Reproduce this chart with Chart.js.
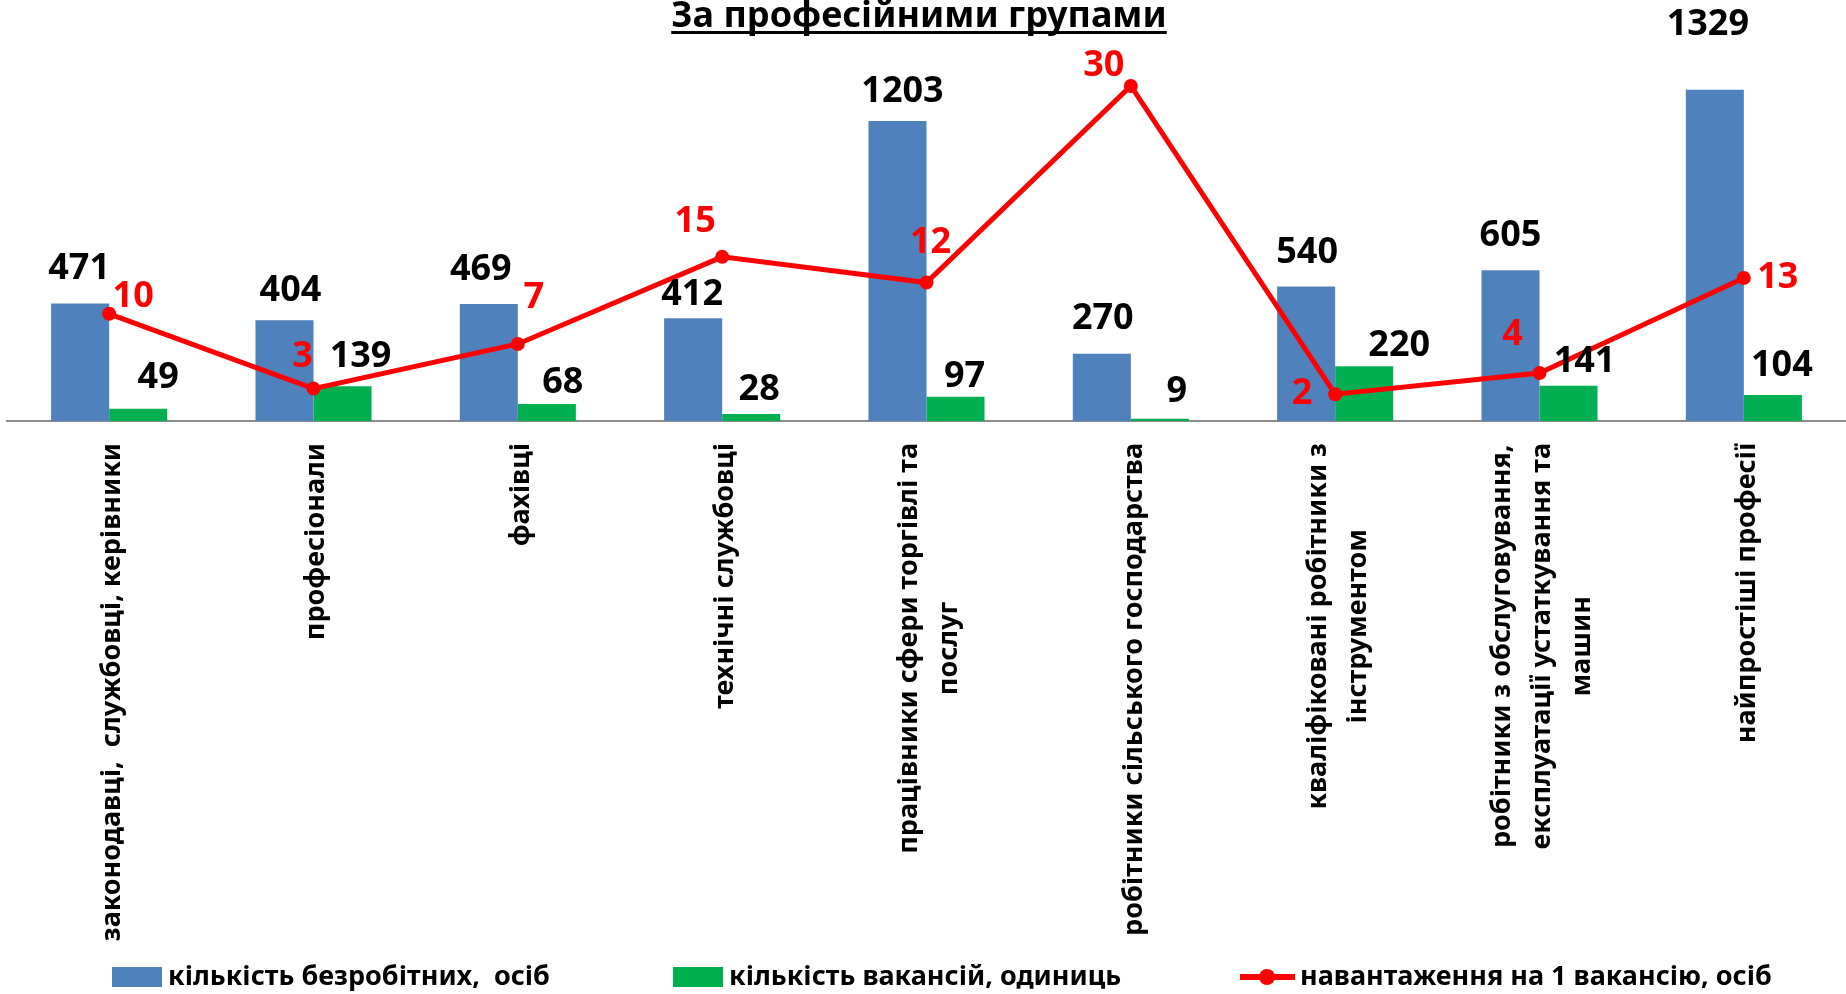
<!DOCTYPE html>
<html lang="uk">
<head>
<meta charset="utf-8">
<title>За професійними групами</title>
<script src="https://cdn.jsdelivr.net/npm/chart.js@4.4.1/dist/chart.umd.min.js"></script>
<style>
  html, body { margin: 0; padding: 0; background: #ffffff; }
  canvas { display: block; }
</style>
</head>
<body>
<canvas id="groups" width="1846" height="994"></canvas>
<script>
// chart data
const chartTitle = 'За професійними групами';
const categories = [
    ['законодавці,  службовці, керівники'],
    ['професіонали'],
    ['фахівці'],
    ['технічні службовці'],
    ['працівники сфери торгівлі та', 'послуг'],
    ['робітники сільського господарства'],
    ['кваліфіковані робітники з', 'інструментом'],
    ['робітники з обслуговування,', 'експлуатації устаткування та', 'машин'],
    ['найпростіші професії']
];
const seriesNames = ['кількість безробітних,  осіб', 'кількість вакансій, одиниць', 'навантаження на 1 вакансію, осіб'];
const unemployed = [471, 404, 469, 412, 1203, 270, 540, 605, 1329];
const vacancies = [49, 139, 68, 28, 97, 9, 220, 141, 104];
const loadPerVacancy = [9.6, 2.9, 6.9, 14.7, 12.4, 30, 2.4, 4.3, 12.8];

const BLUE = '#4f81bd';
const GREEN = '#00b050';
const RED = '#ff0000';
const FONT = '"Noto Sans", "Open Sans", "DejaVu Sans", sans-serif';

// where each value label sits relative to its bar top / point (dx, dy)
const labelShift = [
    { dx: [-1, 6, -8, -1, 5, 1, 1, 0, -7], dy: [-35, -30, -34, -24, -29, -35, -34, -34, -65] },
    { dx: [20, 18, 16, 8, 9, 17, 35, 16, 9], dy: [-31, -30, -21, -24, -20, -27, -20, -24, -29] },
    { dx: [24, -11, 16, -27, 4, -27, -33, -27, 34], dy: [-17, -32, -46, -35, -40, -20, 0, -38, 0] }
];

const valueLabels = {
    id: 'valueLabels',
    afterDatasetsDraw(chart) {
        const ctx = chart.ctx;
        ctx.save();
        ctx.font = 'bold 36px ' + FONT;
        ctx.textAlign = 'center';
        ctx.textBaseline = 'middle';
        chart.data.datasets.forEach((ds, di) => {
            const meta = chart.getDatasetMeta(di);
            ctx.fillStyle = di === 2 ? RED : '#000000';
            meta.data.forEach((el, i) => {
                const text = String(Math.round(ds.data[i]));
                ctx.fillText(text, el.x + labelShift[di].dx[i], el.y + labelShift[di].dy[i]);
            });
        });
        ctx.restore();
    }
};

const decorations = {
    id: 'decorations',
    afterDraw(chart) {
        const ctx = chart.ctx;
        const xScale = chart.scales.x;
        ctx.save();

        // title, underlined
        ctx.font = 'bold 36px ' + FONT;
        ctx.fillStyle = '#000000';
        ctx.textAlign = 'center';
        ctx.textBaseline = 'alphabetic';
        const tx = 919;
        ctx.fillText(chartTitle, tx, 27);
        const tw = ctx.measureText(chartTitle).width;
        ctx.fillRect(tx - tw / 2, 31, tw, 3);

        // category labels, rotated, lines centred, block hanging from the axis
        ctx.font = 'bold 27px ' + FONT;
        ctx.textAlign = 'center';
        ctx.textBaseline = 'middle';
        const top = chart.chartArea.bottom + 22;
        categories.forEach((lines, i) => {
            const cx = xScale.getPixelForValue(i) + 3;
            const w = Math.max(...lines.map(l => ctx.measureText(l).width));
            lines.forEach((line, j) => {
                const off = (j - (lines.length - 1) / 2) * 40;
                ctx.save();
                ctx.translate(cx + off, top + w / 2);
                ctx.rotate(-Math.PI / 2);
                ctx.fillText(line, 0, 0);
                ctx.restore();
            });
        });

        // legend
        const ly = 977;
        ctx.textAlign = 'left';
        ctx.fillStyle = BLUE;
        ctx.fillRect(112, ly - 10, 50, 20);
        ctx.fillStyle = GREEN;
        ctx.fillRect(673, ly - 10, 50, 20);
        ctx.strokeStyle = RED;
        ctx.lineWidth = 6;
        ctx.beginPath();
        ctx.moveTo(1240, ly);
        ctx.lineTo(1295, ly);
        ctx.stroke();
        ctx.fillStyle = RED;
        ctx.beginPath();
        ctx.arc(1267, ly, 8, 0, Math.PI * 2);
        ctx.fill();
        ctx.fillStyle = '#000000';
        ctx.fillText(seriesNames[0], 168, ly);
        ctx.fillText(seriesNames[1], 729, ly);
        ctx.fillText(seriesNames[2], 1300, ly);

        ctx.restore();
    }
};

const ctx = document.getElementById('groups').getContext('2d');
const chart = new Chart(ctx, {
    type: 'bar',
    data: {
        labels: categories.map(c => c.join(' ')),
        datasets: [
            {
                label: seriesNames[0],
                data: unemployed,
                backgroundColor: BLUE,
                yAxisID: 'y',
                order: 1
            }, {
                label: seriesNames[1],
                data: vacancies,
                backgroundColor: GREEN,
                yAxisID: 'y',
                order: 1
            }, {
                type: 'line',
                label: seriesNames[2],
                data: loadPerVacancy,
                borderColor: RED,
                backgroundColor: RED,
                borderWidth: 5,
                pointRadius: 7,
                pointBorderWidth: 0,
                pointBackgroundColor: RED,
                tension: 0,
                yAxisID: 'y1',
                order: 0
            }
        ]
    },
    options: {
        responsive: false,
        animation: false,
        devicePixelRatio: 1,
        layout: {
            autoPadding: false,
            padding: { left: 7, right: 0, top: 72, bottom: 573 }
        },
        datasets: {
            bar: { categoryPercentage: 0.568, barPercentage: 1 }
        },
        plugins: {
            legend: { display: false },
            title: { display: false },
            tooltip: { enabled: false }
        },
        scales: {
            x: {
                grid: { display: false, drawTicks: false },
                border: { display: true, color: '#8c8c8c', width: 2 },
                ticks: { display: false }
            },
            y: {
                display: false,
                min: 0,
                max: 1400
            },
            y1: {
                display: false,
                min: 0,
                max: 31.25
            }
        }
    },
    plugins: [valueLabels, decorations]
});
</script>
</body>
</html>
